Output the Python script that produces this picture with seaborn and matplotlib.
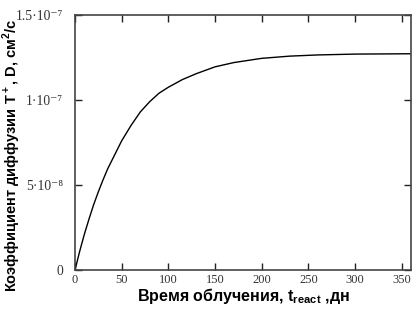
import matplotlib
matplotlib.use("Agg")
import matplotlib.pyplot as plt
import seaborn as sns
import pandas as pd

# irradiation time, days
t_days = [0, 5, 10, 15, 20, 25, 30, 35, 40, 45, 50, 60, 70, 80, 90, 100, 115,
          130, 150, 170, 200, 230, 260, 300, 360]
# diffusion coefficient, units of 1e-7 cm^2/s
d_coef = [0.0, 0.11, 0.21, 0.30, 0.385, 0.46, 0.53, 0.595, 0.65, 0.705, 0.76,
          0.85, 0.93, 0.99, 1.04, 1.075, 1.12, 1.155, 1.195, 1.22, 1.245,
          1.258, 1.265, 1.27, 1.272]

x_ticks = [0, 50, 100, 150, 200, 250, 300, 350]
y_ticks = [0, 5e-8, 1e-7, 1.5e-7]
y_ticklabels = ["0", "5·10⁻⁸", "1·10⁻⁷", "1.5·10⁻⁷"]

df = pd.DataFrame({"t": t_days, "D": [v * 1e-7 for v in d_coef]})

sns.set_style("ticks")
plt.rcParams["font.family"] = ["Liberation Sans", "DejaVu Sans"]
plt.rcParams["mathtext.fontset"] = "custom"
plt.rcParams["mathtext.rm"] = "Liberation Sans"
plt.rcParams["mathtext.bf"] = "Liberation Sans:bold"

fig = plt.figure(figsize=(4.2, 3.11), dpi=100)
ax = fig.add_axes([0.1786, 0.1318, 0.80, 0.82])

sns.lineplot(data=df, x="t", y="D", ax=ax, color="black", linewidth=1.0)

serif = ["Liberation Serif", "DejaVu Serif"]
ax.set_xlim(0, 360)
ax.set_ylim(0, 1.5e-7)
ax.set_xticks(x_ticks)
ax.set_xticklabels([str(v) for v in x_ticks], family=serif, fontsize=9, color="#333333")
ax.set_yticks(y_ticks)
ax.set_yticklabels(y_ticklabels, family=serif, fontsize=9.8, color="#333333")
ax.tick_params(direction="in", length=5, width=1, top=True, right=True,
               color="#222222")
ax.tick_params(axis="x", pad=3)
ax.tick_params(axis="y", pad=8.5)
for s in ax.spines.values():
    s.set_visible(True)
    s.set_color("#444444")
    s.set_linewidth(1.2)

ax.set_xlabel(r"Время облучения, t$_{\bf react}$ ,дн", fontsize=11.5,
              fontweight="bold", color="black", labelpad=0)
ax.set_ylabel(r"Коэффициент диффузии T$^{\bf +}$, D, см$^{\bf 2}$/с", fontsize=10.5,
              fontweight="bold", color="black")
ax.yaxis.set_label_coords(-0.155, 0.45)

fig.savefig("out.png", dpi=100)
